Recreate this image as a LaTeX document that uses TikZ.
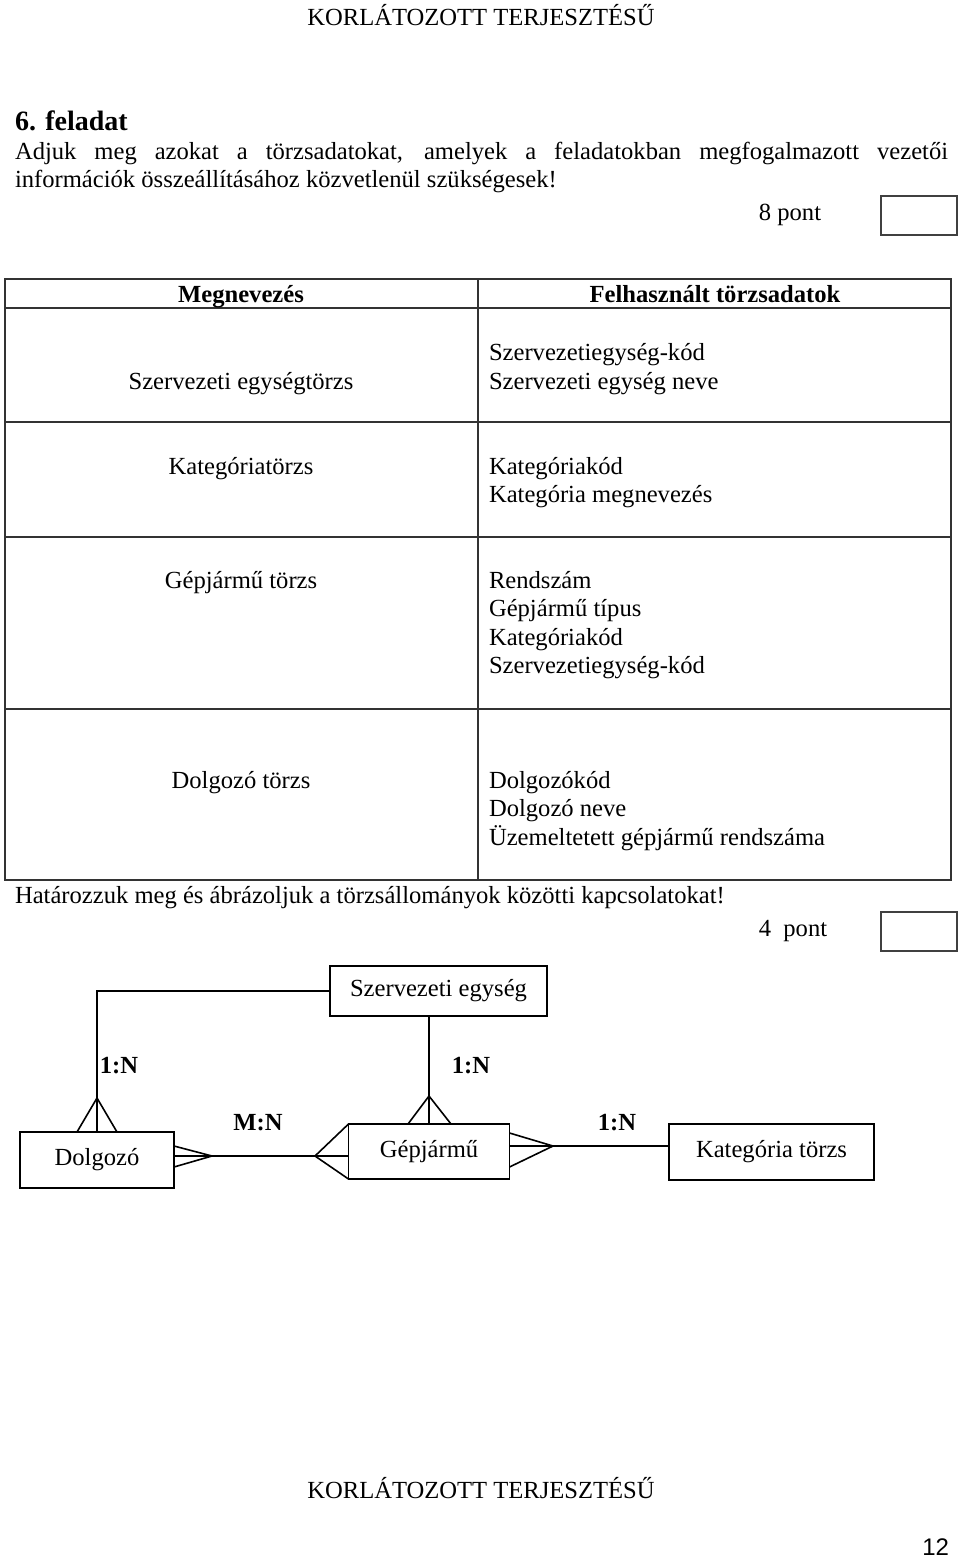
\documentclass[tikz,border=0pt]{standalone}
\usepackage{fontspec}
\setmainfont{Liberation Serif}
\newfontfamily\pagenumfont{Liberation Sans}
\usetikzlibrary{calc}
\begin{document}
\begin{tikzpicture}[x=1pt,y=-1pt,
  every node/.style={inner sep=0pt,outer sep=0pt,font=\fontsize{24.6}{28.5}\selectfont},
  txt/.style={anchor=base},
  txtl/.style={anchor=base west},
  rule/.style={draw=black!80,line width=1.4pt},
  pontbox/.style={draw=black!75,line width=1.4pt},
  entity/.style={draw=black,line width=1.8pt,anchor=center},
  conn/.style={draw=black,line width=1.6pt},
  card/.style={anchor=center,font=\fontsize{24.6}{28}\selectfont\bfseries}]
\useasboundingbox (0,0) rectangle (960,1557);
\fill[white] (0,0) rectangle (960,1557);

% header
\node[txt] (head) at (481,26) {KORLÁTOZOTT TERJESZTÉSŰ};
\node[txtl,font=\fontsize{28}{30}\selectfont\bfseries] (title) at (15,131) {6. feladat};
\node[txtl] (p1) at (15,160) {\makebox[933pt][s]{Adjuk meg azokat a törzsadatokat, amelyek a feladatokban megfogalmazott vezetői}};
\node[txtl] (p2) at (15,188) {információk összeállításához közvetlenül szükségesek!};
\node[txt] (pont8) at (790,220) {8 pont};
\draw[pontbox] (881,196) rectangle (957,235);

% table
\coordinate (tl) at (5,279);
\coordinate (br) at (951,880);
\draw[rule] (tl) rectangle (br);
\draw[rule] (478,279) -- (478,880);
\foreach \yy in {308,422,537,709} \draw[rule] (5,\yy) -- (951,\yy);

\node[txt,font=\fontsize{24.6}{28.5}\selectfont\bfseries] (h1) at (241,302) {Megnevezés};
\node[txt,font=\fontsize{24.6}{28.5}\selectfont\bfseries] (h2) at (715,302) {Felhasznált törzsadatok};

\node[txt] (r1l) at (241,389) {Szervezeti egységtörzs};
\node[txtl] (r1a) at (489,360) {Szervezetiegység-kód};
\node[txtl] (r1b) at (489,389) {Szervezeti egység neve};

\node[txt] (r2l) at (241,474) {Kategóriatörzs};
\node[txtl] (r2a) at (489,474) {Kategóriakód};
\node[txtl] (r2b) at (489,502) {Kategória megnevezés};

\node[txt] (r3l) at (241,588) {Gépjármű törzs};
\node[txtl] (r3a) at (489,588) {Rendszám};
\node[txtl] (r3b) at (489,616) {Gépjármű típus};
\node[txtl] (r3c) at (489,645) {Kategóriakód};
\node[txtl] (r3d) at (489,673) {Szervezetiegység-kód};

\node[txt] (r4l) at (241,788) {Dolgozó törzs};
\node[txtl] (r4a) at (489,788) {Dolgozókód};
\node[txtl] (r4b) at (489,816) {Dolgozó neve};
\node[txtl] (r4c) at (489,845) {Üzemeltetett gépjármű rendszáma};

\node[txtl] (q2) at (15,903) {Határozzuk meg és ábrázoljuk a törzsállományok közötti kapcsolatokat!};
\node[txt] (pont4) at (793,936) {4\ \ pont};
\draw[pontbox] (881,912) rectangle (957,951);

% ER diagram
\node[entity,minimum width=217pt,minimum height=50pt] (szerv) at (438.5,991) {Szervezeti egység};
\node[entity,minimum width=154pt,minimum height=56pt] (dolg) at (97,1160) {Dolgozó};
\node[entity,minimum width=161pt,minimum height=55pt] (gep) at (429,1151.5) {Gépjármű};
\node[entity,minimum width=205pt,minimum height=56pt] (kat) at (771.5,1152) {Kategória törzs};

% Szervezeti egység -- Dolgozó (1:N)
\draw[conn] (szerv.west) -| (dolg.north);
\coordinate (ad) at ($(dolg.north)+(0,-34)$);
\draw[conn] (ad) -- ($(dolg.north)+(-20,0)$);
\draw[conn] (ad) -- ($(dolg.north)+(20,0)$);

% Szervezeti egység -- Gépjármű (1:N)
\draw[conn] (gep.north |- szerv.south) -- (gep.north);
\coordinate (ag) at ($(gep.north)+(0,-28)$);
\draw[conn] (ag) -- ($(gep.north)+(-21,0)$);
\draw[conn] (ag) -- ($(gep.north)+(22,0)$);

% Dolgozó -- Gépjármű (M:N)
\coordinate (mnline) at (0,1156);
\coordinate (ad2) at (212,1156);
\coordinate (ag2) at (315,1156);
\draw[conn] (dolg.east |- mnline) -- (gep.west |- mnline);
\draw[conn] (ad2) -- (dolg.east |- 0,1146);
\draw[conn] (ad2) -- (dolg.east |- 0,1167);
\draw[conn] (ag2) -- (gep.north west);
\draw[conn] (ag2) -- (gep.south west);

% Gépjármű -- Kategória (1:N)
\coordinate (kline) at (0,1146);
\coordinate (ak) at (553,1146);
\draw[conn] (gep.east |- kline) -- (kat.west |- kline);
\draw[conn] (ak) -- (gep.east |- 0,1133);
\draw[conn] (ak) -- (gep.east |- 0,1167);

\node[card] (c1) at (119,1066) {1:N};
\node[card] (c2) at (471,1066) {1:N};
\node[card] (c3) at (258,1123) {M:N};
\node[card] (c4) at (617,1123) {1:N};

% footer
\node[txt] (foot) at (481,1498) {KORLÁTOZOTT TERJESZTÉSŰ};
\node[anchor=base east,font=\fontsize{24}{28}\pagenumfont] (pn) at (949,1555) {12};
\end{tikzpicture}
\end{document}
